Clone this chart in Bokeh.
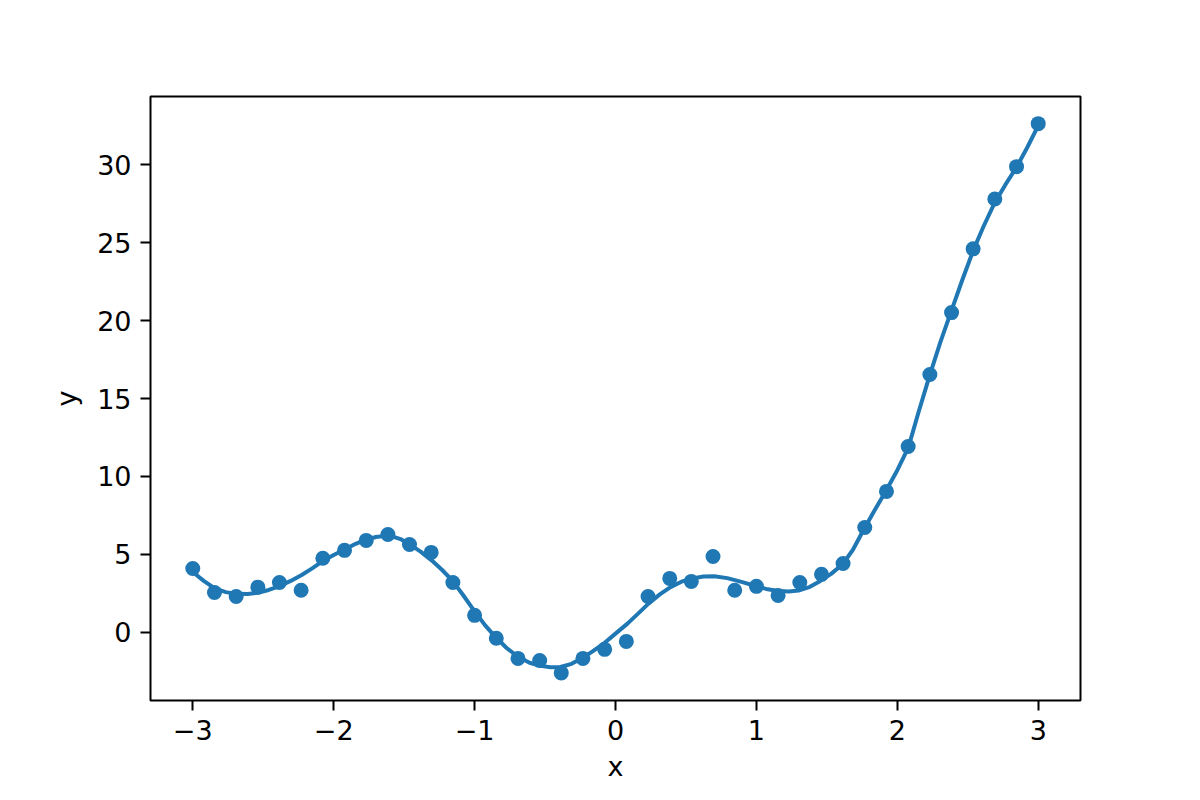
from bokeh.plotting import figure
from bokeh.models import Range1d, FixedTicker
from bokeh.embed import file_html
from bokeh.resources import INLINE

# scatter data
x_pts = [-3.000, -2.846, -2.692, -2.538, -2.385, -2.231, -2.077, -1.923, -1.769, -1.615,
         -1.462, -1.308, -1.154, -1.000, -0.846, -0.692, -0.538, -0.385, -0.231, -0.077,
         0.077, 0.231, 0.385, 0.538, 0.692, 0.846, 1.000, 1.154, 1.308, 1.462,
         1.615, 1.769, 1.923, 2.077, 2.231, 2.385, 2.538, 2.692, 2.846, 3.000]
y_pts = [4.10, 2.56, 2.30, 2.90, 3.20, 2.70, 4.75, 5.26, 5.90, 6.28,
         5.64, 5.13, 3.20, 1.09, -0.38, -1.67, -1.80, -2.60, -1.67, -1.09,
         -0.58, 2.30, 3.46, 3.27, 4.87, 2.70, 2.95, 2.37, 3.20, 3.72,
         4.42, 6.73, 9.04, 11.92, 16.54, 20.51, 24.60, 27.80, 29.87, 32.63]

# fitted curve
x_fit = [-3.000, -2.922, -2.844, -2.766, -2.688, -2.610, -2.539, -2.461, -2.383, -2.305,
         -2.227, -2.150, -2.078, -2.000, -1.922, -1.844, -1.766, -1.700, -1.640, -1.580,
         -1.520, -1.461, -1.383, -1.305, -1.230, -1.156, -1.078, -1.000, -0.925, -0.851,
         -0.773, -0.695, -0.610, -0.532, -0.460, -0.390, -0.312, -0.234, -0.160, -0.085,
         0.000, 0.085, 0.160, 0.234, 0.312, 0.390, 0.468, 0.546, 0.624, 0.700,
         0.794, 0.900, 1.007, 1.080, 1.156, 1.230, 1.298, 1.380, 1.454, 1.530,
         1.610, 1.685, 1.759, 1.837, 1.915, 2.000, 2.078, 2.150, 2.227, 2.305,
         2.383, 2.461, 2.539, 2.610, 2.688, 2.766, 2.844, 2.922, 3.000]
y_fit = [3.87, 3.30, 2.82, 2.58, 2.47, 2.46, 2.54, 2.72, 2.97, 3.30,
         3.68, 4.12, 4.57, 4.96, 5.32, 5.68, 5.96, 6.12, 6.18, 6.14,
         5.96, 5.64, 5.18, 4.62, 4.00, 3.30, 2.35, 1.35, 0.45, -0.30,
         -1.00, -1.55, -1.95, -2.15, -2.24, -2.22, -2.02, -1.64, -1.20, -0.73,
         -0.08, 0.56, 1.20, 1.84, 2.42, 2.90, 3.25, 3.46, 3.58, 3.60,
         3.48, 3.22, 2.94, 2.76, 2.65, 2.62, 2.68, 2.92, 3.30, 3.75,
         4.35, 5.30, 6.55, 7.80, 9.00, 10.40, 11.85, 14.10, 16.40, 18.60,
         20.60, 22.60, 24.50, 26.00, 27.50, 28.70, 29.80, 31.10, 32.50]

x_ticks = [-3, -2, -1, 0, 1, 2, 3]
y_ticks = [0, 5, 10, 15, 20, 25, 30]

BLUE = "#1f77b4"
FONT = "DejaVu Sans"
FS = "27px"

p = figure(width=1184, height=784, output_backend="svg", toolbar_location=None,
           x_range=Range1d(-3.3, 3.3), y_range=Range1d(-4.37, 34.37),
           min_border_left=150, min_border_right=104, min_border_top=96, min_border_bottom=84)

p.line(x_fit, y_fit, line_color=BLUE, line_width=4)
p.scatter(x_pts, y_pts, size=15, fill_color=BLUE, line_color=BLUE, line_width=0)

p.grid.visible = False
p.outline_line_color = "black"
p.outline_line_width = 2
p.background_fill_color = "white"
p.border_fill_color = "white"

p.xaxis.ticker = FixedTicker(ticks=x_ticks)
p.yaxis.ticker = FixedTicker(ticks=y_ticks)
p.xaxis.major_label_overrides = {t: (("\u2212" + str(-t)) if t < 0 else str(t)) for t in x_ticks}
p.xaxis.axis_label = "x"
p.yaxis.axis_label = "y"

for ax in (p.xaxis[0], p.yaxis[0]):
    ax.axis_line_color = None
    ax.major_tick_line_color = "black"
    ax.major_tick_line_width = 2
    ax.major_tick_out = 10
    ax.major_tick_in = 0
    ax.minor_tick_line_color = None
    ax.major_label_text_font = FONT
    ax.major_label_text_font_size = FS
    ax.major_label_text_color = "black"
    ax.major_label_standoff = 9
    ax.axis_label_text_font = FONT
    ax.axis_label_text_font_size = FS
    ax.axis_label_text_font_style = "normal"
    ax.axis_label_text_color = "black"

p.xaxis[0].axis_label_standoff = 8
p.yaxis[0].axis_label_standoff = 12

open("out.html", "w").write(file_html(p, INLINE))
